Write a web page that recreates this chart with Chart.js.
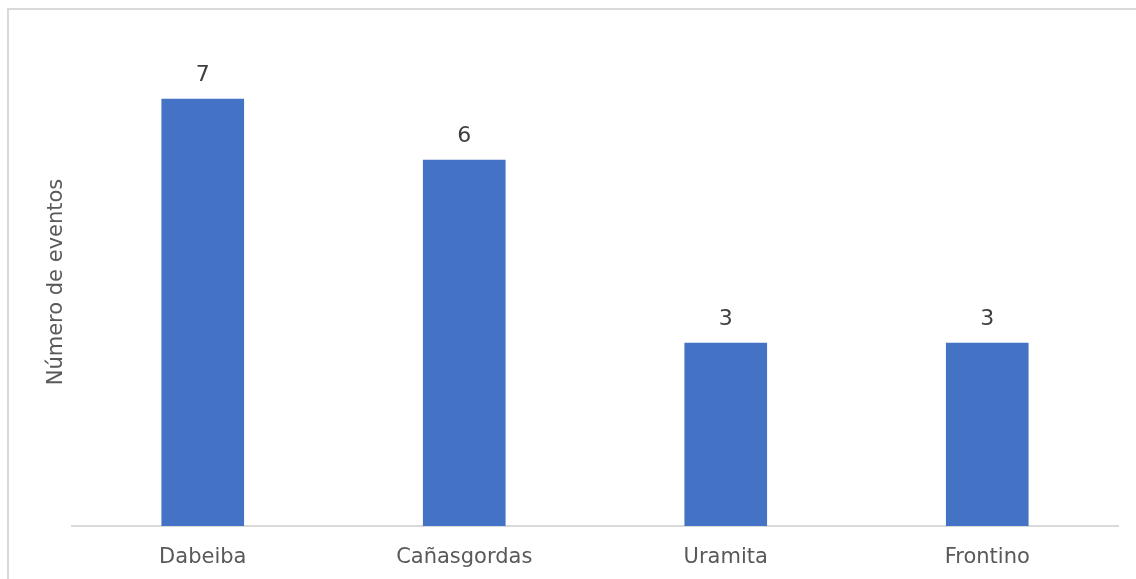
<!DOCTYPE html>
<html>
<head>
<meta charset="utf-8">
<script src="https://cdn.jsdelivr.net/npm/chart.js@4/dist/chart.umd.min.js"></script>
<style>
  body { margin: 0; background: #fff; overflow: hidden; }
  #frame { position: absolute; left: 7px; top: 8px; width: 1200px; height: 700px;
           border-left: 2px solid #d9d9d9; border-top: 2px solid #d9d9d9; }
  #chart { position: absolute; left: 0; top: 0; }
</style>
</head>
<body>
<div id="frame"></div>
<canvas id="chart" width="1136" height="579"></canvas>
<script>
var municipios = ['Dabeiba', 'Cañasgordas', 'Uramita', 'Frontino'];
var eventos = [7, 6, 3, 3];
var tituloY = 'Número de eventos';

var fuente = "'DejaVu Sans', Verdana, sans-serif";

// numbers written over every bar
var etiquetas = {
  id: 'etiquetas',
  afterDatasetsDraw: function (chart) {
    var ctx = chart.ctx;
    var meta = chart.getDatasetMeta(0);
    ctx.save();
    ctx.font = '22px ' + fuente;
    ctx.fillStyle = '#404040';
    ctx.textAlign = 'center';
    ctx.textBaseline = 'middle';
    meta.data.forEach(function (bar, i) {
      ctx.fillText(String(chart.data.datasets[0].data[i]), bar.x, bar.y - 24);
    });
    ctx.restore();
  }
};

var chart = new Chart(document.getElementById('chart'), {
  type: 'bar',
  data: {
    labels: municipios,
    datasets: [{
      data: eventos,
      backgroundColor: '#4472c4',
      barThickness: 82
    }]
  },
  options: {
    responsive: false,
    animation: false,
    layout: { padding: { left: 40, right: 18, top: 38, bottom: 0 } },
    plugins: { legend: { display: false }, tooltip: { enabled: false } },
    scales: {
      x: {
        grid: { display: false },
        border: { color: '#d9d9d9', width: 2 },
        ticks: { color: '#595959', font: { family: fuente, size: 21 }, padding: 11 },
        afterFit: function (scale) { scale.height = 53; }
      },
      y: {
        min: 0,
        max: 8,
        grid: { display: false },
        border: { display: false },
        ticks: { display: false },
        title: {
          display: true,
          text: tituloY,
          color: '#595959',
          font: { family: fuente, size: 21 },
          padding: 4
        },
        afterFit: function (scale) { scale.width = 32; }
      }
    }
  },
  plugins: [etiquetas]
});
</script>
</body>
</html>
